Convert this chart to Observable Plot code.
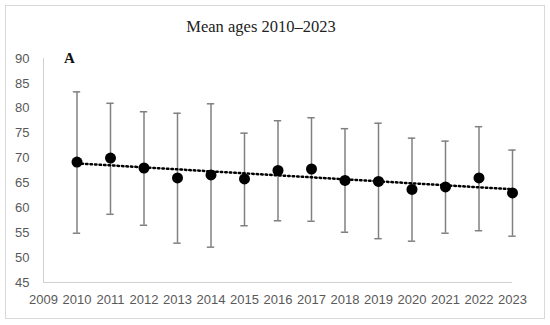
<!DOCTYPE html>
<html>
<head>
<meta charset="utf-8">
<script src="https://cdn.jsdelivr.net/npm/d3@7"></script>
<script src="https://cdn.jsdelivr.net/npm/@observablehq/plot@0.6"></script>
<style>
  body { margin: 0; background: #fff; }
  #wrap { position: relative; width: 550px; height: 325px; overflow: hidden; }
  #frame { position: absolute; left: 5px; top: 5px; width: 538px; height: 312px; border: 1px solid #d9d9d9; box-sizing: content-box; }
  #title { position: absolute; left: 0; width: 522px; top: 17px; text-align: center; font-family: "Liberation Serif", "DejaVu Serif", serif; font-size: 16.5px; color: #222; }
  #panel { position: absolute; left: 64px; top: 50px; font-family: "Liberation Serif", serif; font-weight: bold; font-size: 15px; color: #111; }
  #chart { position: absolute; left: 0; top: 0; }
</style>
</head>
<body>
<div id="wrap">
  <div id="frame"></div>
  <div id="chart"></div>
  <div id="title">Mean ages 2010–2023</div>
  <div id="panel">A</div>
</div>
<script>
const years = [2010, 2011, 2012, 2013, 2014, 2015, 2016, 2017, 2018, 2019, 2020, 2021, 2022, 2023];
const means = [69.2, 70.0, 68.0, 66.0, 66.6, 65.8, 67.5, 67.8, 65.5, 65.3, 63.7, 64.2, 66.0, 63.0];
const upper = [83.3, 81.0, 79.3, 79.0, 80.9, 75.0, 77.5, 78.1, 75.9, 77.0, 74.0, 73.4, 76.3, 71.6];
const lower = [54.9, 58.7, 56.5, 52.9, 52.1, 56.4, 57.4, 57.3, 55.1, 53.8, 53.3, 54.9, 55.4, 54.3];
const xTicks = [2009, 2010, 2011, 2012, 2013, 2014, 2015, 2016, 2017, 2018, 2019, 2020, 2021, 2022, 2023];
const yTicks = [45, 50, 55, 60, 65, 70, 75, 80, 85, 90];

const data = years.map((y, i) => ({year: y, mean: means[i], hi: upper[i], lo: lower[i]}));
const capHalf = 0.11;

const chart = Plot.plot({
  width: 550,
  height: 325,
  marginLeft: 43,
  marginRight: 38,
  marginTop: 58,
  marginBottom: 43,
  style: {fontFamily: "'Liberation Sans', Arial, sans-serif", fontSize: "13px", color: "#595959", background: "transparent"},
  x: {domain: [2009, 2023], ticks: xTicks, tickFormat: d => String(d), tickSize: 0, tickPadding: 12, label: null},
  y: {domain: [45, 90], ticks: yTicks, tickSize: 0, tickPadding: 14, label: null},
  marks: [
    Plot.ruleX([2009], {y1: 45, y2: 90, stroke: "#d0d0d0", strokeWidth: 1}),
    Plot.ruleY([45], {stroke: "#d0d0d0", strokeWidth: 1}),
    Plot.ruleX(data, {x: "year", y1: "lo", y2: "hi", stroke: "#808080", strokeWidth: 1.5}),
    Plot.ruleY(data, {y: "hi", x1: d => d.year - capHalf, x2: d => d.year + capHalf, stroke: "#808080", strokeWidth: 1.5}),
    Plot.ruleY(data, {y: "lo", x1: d => d.year - capHalf, x2: d => d.year + capHalf, stroke: "#808080", strokeWidth: 1.5}),
    Plot.linearRegressionY(data, {x: "year", y: "mean", stroke: "#000", strokeWidth: 2.5, strokeDasharray: "1.5,3", ci: 0}),
    Plot.dot(data, {x: "year", y: "mean", r: 5.5, fill: "#000", stroke: "none"})
  ]
});
document.getElementById("chart").appendChild(chart);
</script>
</body>
</html>
